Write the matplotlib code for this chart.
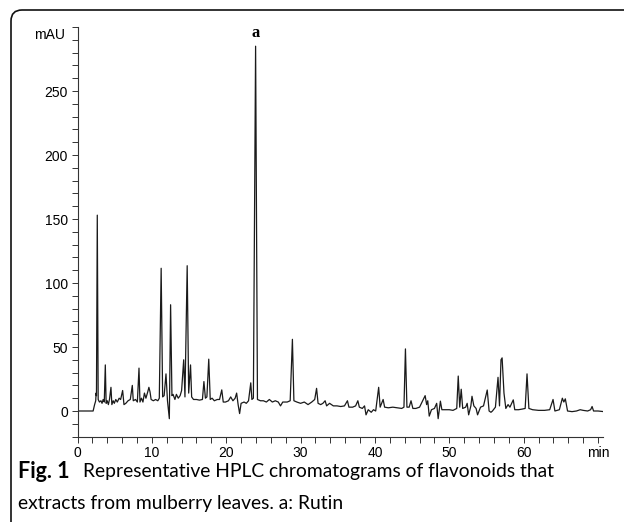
import matplotlib
matplotlib.use("Agg")
import matplotlib.pyplot as plt
from matplotlib.path import Path
from matplotlib.patches import PathPatch
from matplotlib.ticker import MultipleLocator

# retention time (min) and detector signal (mAU)
time_min = [
    0.0, 2.1, 2.3, 2.45, 2.5, 2.55, 2.66, 2.78, 2.95, 3.15, 3.3, 3.45, 3.6, 3.74, 3.85,
    4.0, 4.15, 4.3, 4.5, 4.62, 4.8, 4.95, 5.15, 5.35, 5.6, 5.8, 6.07, 6.25, 6.5, 6.8,
    7.1, 7.37, 7.5, 7.8, 8.05, 8.27, 8.4, 8.6, 8.8, 9.0, 9.2, 9.45, 9.6, 9.75, 9.9,
    10.2, 10.5, 10.8, 11.0, 11.25, 11.45, 11.65, 11.9, 12.1, 12.35, 12.52, 12.7, 12.85,
    13.1, 13.3, 13.55, 13.8, 14.0, 14.28, 14.45, 14.75, 14.95, 15.2, 15.35, 15.6, 16.0,
    16.4, 16.8, 17.0, 17.2, 17.4, 17.65, 17.85, 18.1, 18.4, 18.8, 19.1, 19.4, 19.6,
    19.9, 20.3, 20.6, 20.9, 21.2, 21.4, 21.6, 21.8, 22.0, 22.4, 22.7, 23.0, 23.3, 23.45,
    23.65, 23.95, 24.2, 24.6, 25.0, 25.4, 25.8, 26.2, 26.6, 27.0, 27.3, 27.6, 28.2,
    28.6, 28.9, 29.1, 29.5, 30.0, 30.5, 31.0, 31.5, 31.9, 32.15, 32.35, 32.7, 33.0,
    33.3, 33.5, 33.9, 34.4, 34.9, 35.4, 35.9, 36.3, 36.5, 37.0, 37.4, 37.7, 37.9, 38.3,
    38.6, 38.8, 39.1, 39.5, 39.8, 40.1, 40.5, 40.7, 41.1, 41.3, 41.8, 42.4, 43.0, 43.6,
    43.9, 44.1, 44.3, 44.6, 44.85, 45.1, 45.5, 46.0, 46.5, 46.75, 46.95, 47.1, 47.3,
    47.6, 48.0, 48.3, 48.5, 48.8, 49.0, 49.5, 50.0, 50.5, 51.0, 51.2, 51.4, 51.6, 51.8,
    52.2, 52.4, 52.6, 52.9, 53.05, 53.3, 53.6, 53.8, 54.2, 54.6, 55.1, 55.35, 55.6,
    55.8, 56.2, 56.55, 56.75, 56.95, 57.1, 57.35, 57.6, 57.9, 58.15, 58.6, 58.8, 59.3,
    59.8, 60.2, 60.45, 60.7, 61.2, 62.0, 62.8, 63.5, 63.95, 64.2, 64.8, 65.2, 65.4,
    65.6, 65.9, 66.5, 67.1, 67.6, 68.0, 68.6, 69.0, 69.2, 69.4, 70.0, 70.8,
]
signal_mau = [
    0, 0, 5, 8, 14, 12, 153, 9, 7, 8, 6, 9, 7, 36, 6,
    8, 5, 9, 18.5, 5, 8, 6, 9, 7, 10, 9, 16, 5, 6, 8,
    9, 20, 8, 9, 7, 33.5, 7, 10, 7, 14, 10, 15, 18.5, 15, 9,
    8, 9, 8, 10, 111.5, 11, 12, 29, 8, -6, 83, 12, 13,
    9, 13, 10, 12, 16, 40, 11, 113.5, 14, 36, 11, 9, 9,
    8.5, 9, 23, 10, 11, 40.5, 9, 10, 8, 9, 9, 16.5, 7,
    7, 8, 11, 8, 10, 14, 5, -2, 6, 7, 6, 8, 22, 9,
    10, 285, 9, 8, 8, 7, 9, 7, 8, 7, 4, 7, 7,
    8, 56, 8, 7, 6, 7, 5, 7, 9, 17.7, 6, 5, 6,
    8, 4, 6, 4, 4, 3.5, 4, 8, 3, 3, 4, 8, 3, 2,
    4, -3, 1, -1, 1, 0, 18.5, 3, 9, 3, 2.5, 3, 2.5, 2,
    3, 48.5, 3, 3, 8, 2, 2, 3, 9, 12, 5, 8, -4,
    1, 2, 6, -6, 7.7, 1, 1, 1, 0.5, 2, 27.3, 3, 17, 2,
    3, 6, -3, 4, 11.5, 4, 2, -3, 3, 4, 16.4, 0, -1,
    0, 3, 26.3, 4, 40, 41.5, 14, 2, 5, 3, 8.7, 1, 1,
    1.5, 2, 29, 2, 1, 0.5, 0.5, 1, 9, 0, 1, 10, 7,
    9.5, 0, -0.5, 0, 1, 0.5, 0, 1, 3.5, 0, 0, -0.5,
]

peak_label = "a"
peak_time = 23.95
x_ticks = [0, 10, 20, 30, 40, 50, 60, 70]
x_tick_labels = ["0", "10", "20", "30", "40", "50", "60", "min"]
y_ticks = [0, 50, 100, 150, 200, 250]
caption_bold = "Fig. 1"
caption_line1 = "Representative HPLC chromatograms of flavonoids that"
caption_line2 = "extracts from mulberry leaves. a: Rutin"

W, H = 624, 525
fig = plt.figure(figsize=(W / 100, H / 100), dpi=100)
ax = fig.add_axes([77.5 / W, 1 - 436.6 / H, 525 / W, 409.6 / H])

ax.plot(time_min, signal_mau, color="#1a1a1a", lw=0.9)
ax.set_xlim(0, 70.6)
ax.set_ylim(-20, 300)

for s in ["top", "right"]:
    ax.spines[s].set_visible(False)
for s in ["left", "bottom"]:
    ax.spines[s].set_linewidth(0.8)
    ax.spines[s].set_color("#333333")

ax.set_xticks(x_ticks)
ax.set_xticklabels(x_tick_labels)
ax.set_yticks(y_ticks)
ax.xaxis.set_minor_locator(MultipleLocator(2))
ax.yaxis.set_minor_locator(MultipleLocator(10))
ax.tick_params(which="both", direction="out", length=4, width=0.7, color="#333333",
               labelsize=10, pad=3)
for lab in ax.get_xticklabels() + ax.get_yticklabels():
    lab.set_family("Liberation Sans")

ax.annotate("mAU", xy=(0, 294), xycoords=("axes fraction", "data"), xytext=(-9, 0),
            textcoords="offset points", ha="right", va="center", fontsize=10,
            family="Liberation Sans")
ax.text(peak_time, 289, peak_label, ha="center", va="bottom", fontsize=12,
        fontweight="bold", family="Liberation Serif")

# frame around the figure: top and left edges with a rounded corner
fx = lambda px: px / W
fy = lambda py: 1 - py / H
verts = [(fx(11), fy(522)), (fx(11), fy(21)), (fx(11), fy(10)), (fx(22), fy(10)),
         (fx(624), fy(10))]
codes = [Path.MOVETO, Path.LINETO, Path.CURVE3, Path.CURVE3, Path.LINETO]
fig.patches.append(PathPatch(Path(verts, codes), transform=fig.transFigure,
                             fill=False, lw=1.2, edgecolor="#111111"))

fig.text(fx(18), fy(471), caption_bold, fontsize=15.5, fontweight="bold",
         family="Lato", va="center", ha="left")
fig.text(fx(83), fy(471), caption_line1, fontsize=13.9, family="Lato",
         va="center", ha="left")
fig.text(fx(18), fy(504), caption_line2, fontsize=13.9, family="Lato",
         va="center", ha="left")

fig.savefig("out.png", dpi=100)
